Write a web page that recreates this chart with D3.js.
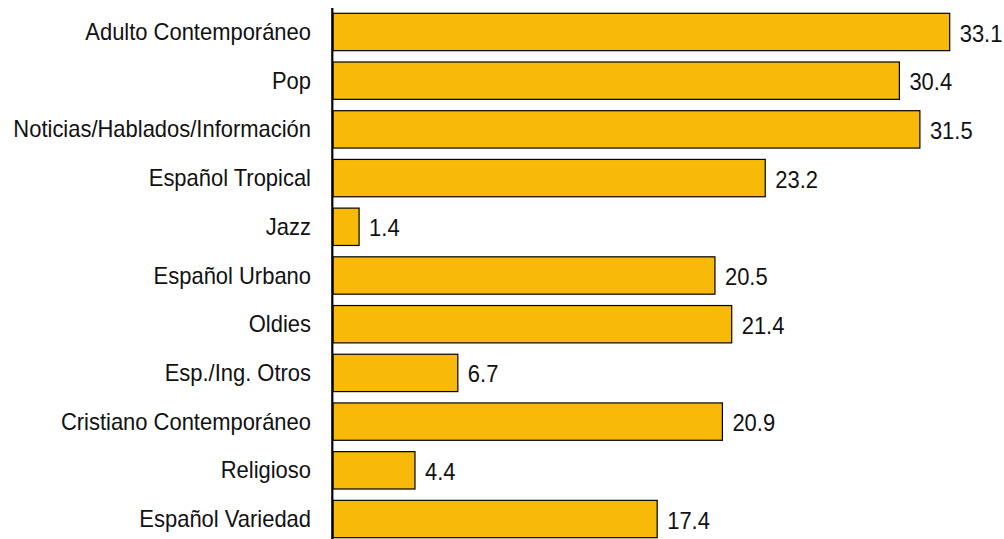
<!DOCTYPE html>
<html><head><meta charset="utf-8">
<script src="https://cdn.jsdelivr.net/npm/d3@7"></script>
<style>body{margin:0;background:#fff;}svg{display:block;}</style>
</head><body>
<svg id="c" width="1004" height="539"></svg>
<script>
const categories = ["Adulto Contemporáneo","Pop","Noticias/Hablados/Información","Español Tropical","Jazz","Español Urbano","Oldies","Esp./Ing. Otros","Cristiano Contemporáneo","Religioso","Español Variedad"];
const values = [33.1,30.4,31.5,23.2,1.4,20.5,21.4,6.7,20.9,4.4,17.4];
const valueLabels = ["33.1","30.4","31.5","23.2","1.4","20.5","21.4","6.7","20.9","4.4","17.4"];

const svg = d3.select("#c");
const x0 = 333;
const x = d3.scaleLinear().domain([0, 33.1]).range([x0, 949.7]);
const y = d3.scaleBand().domain(categories).range([13.3, 537.7]).paddingInner(0.233).paddingOuter(0);
const sx = 0.955;

svg.selectAll("rect.bar").data(values).join("rect")
  .attr("class","bar")
  .attr("x", x(0))
  .attr("y", (d,i)=>y(categories[i]))
  .attr("width", d=>x(d)-x(0))
  .attr("height", y.bandwidth())
  .attr("fill","#F9B908")
  .attr("stroke","#000")
  .attr("stroke-width",1.2);

svg.append("line").attr("x1",332.3).attr("x2",332.3).attr("y1",8).attr("y2",539)
  .attr("stroke","#000").attr("stroke-width",2.2);

const font = "'Liberation Sans', Arial, sans-serif";
svg.selectAll("text.cat").data(categories).join("text")
  .attr("class","cat")
  .attr("transform", d=>`translate(311,${y(d)+y.bandwidth()/2}) scale(${sx},1)`)
  .attr("dy","0.35em")
  .attr("text-anchor","end")
  .attr("font-family",font).attr("font-size",23)
  .attr("fill","#111")
  .text(d=>d);

svg.selectAll("text.val").data(values).join("text")
  .attr("class","val")
  .attr("transform", (d,i)=>`translate(${x(d)+10},${y(categories[i])+y.bandwidth()/2+1.5}) scale(${sx},1)`)
  .attr("dy","0.35em")
  .attr("font-family",font).attr("font-size",23)
  .attr("fill","#111")
  .text((d,i)=>valueLabels[i]);
</script>
</body></html>
